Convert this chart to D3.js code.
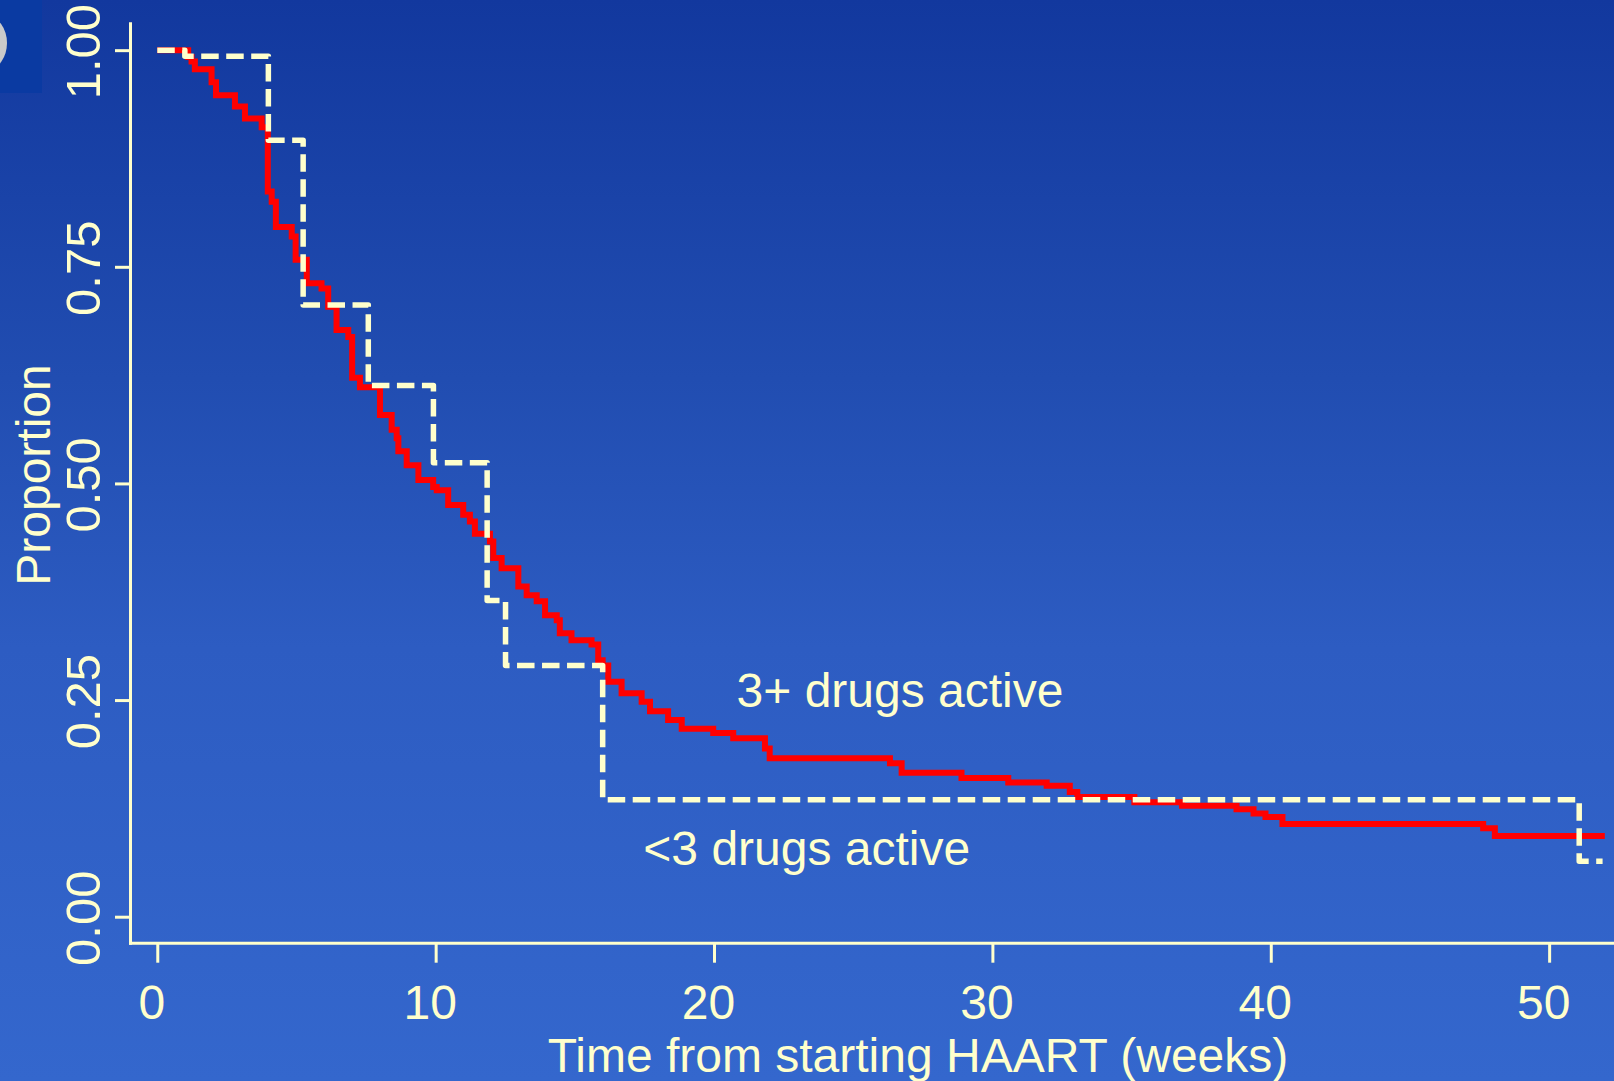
<!DOCTYPE html>
<html>
<head>
<meta charset="utf-8">
<script src="https://cdn.jsdelivr.net/npm/d3@7"></script>
<style>
  html, body { margin: 0; padding: 0; overflow: hidden; }
  svg { display: block; }
  text { font-family: "Liberation Sans", Arial, sans-serif; fill: #ffffcc; }
</style>
</head>
<body>
<div id="container"></div>
<script>
// 3+ drugs active (solid red KM curve)
const weeks3plus = [0, 1.11, 1.23, 1.35, 1.95, 2.11, 2.79, 3.15, 3.75, 3.97,
  4.11, 4.26, 4.83, 4.97, 5.37, 5.90, 6.14, 6.44, 6.86, 7.00,
  7.28, 8.00, 8.42, 8.60, 8.66, 8.96, 9.38, 9.91, 10.04, 10.45,
  10.99, 11.23, 11.41, 11.95, 12.07, 12.37, 12.97, 13.27, 13.63, 13.93,
  14.35, 14.46, 14.88, 15.60, 15.84, 16.00, 16.20, 16.68, 17.40, 17.70,
  18.35, 18.84, 19.97, 20.69, 21.83, 22.00, 26.32, 26.74, 28.89, 30.57,
  31.95, 32.78, 33.05, 35.10, 36.81, 38.77, 39.38, 39.81, 40.42, 47.63,
  48.05, 52.00];
const surv3plus = [1.000, 0.992, 0.987, 0.978, 0.963, 0.948, 0.935, 0.921, 0.911, 0.837,
  0.825, 0.796, 0.785, 0.758, 0.731, 0.725, 0.704, 0.677, 0.669, 0.622,
  0.611, 0.579, 0.562, 0.552, 0.537, 0.521, 0.504, 0.496, 0.492, 0.475,
  0.464, 0.456, 0.442, 0.433, 0.414, 0.402, 0.381, 0.371, 0.364, 0.348,
  0.342, 0.327, 0.319, 0.314, 0.296, 0.290, 0.271, 0.258, 0.248, 0.237,
  0.227, 0.217, 0.212, 0.206, 0.194, 0.183, 0.177, 0.166, 0.160, 0.155,
  0.151, 0.144, 0.138, 0.132, 0.128, 0.124, 0.119, 0.115, 0.107, 0.102,
  0.093, 0.093];

// <3 drugs active (dashed cream KM curve)
const weeksLess3 = [0, 0.99, 3.99, 5.24, 7.58, 9.92, 11.85, 12.51, 16.00, 51.08, 51.92];
const survLess3 = [1.000, 0.993, 0.896, 0.706, 0.613, 0.524, 0.365, 0.290, 0.135, 0.064, 0.064];

// axis ticks
const xTicks = [0, 10, 20, 30, 40, 50];
const yTicks = [0, 0.25, 0.5, 0.75, 1];
const yTickLabels = ["0.00", "0.25", "0.50", "0.75", "1.00"];

function drawChart() {
  const width = 1614;
  const height = 1081;
  const cream = "#ffffcc";

  const svg = d3.select("#container").append("svg")
    .attr("width", width).attr("height", height);

  // slide background
  const defs = svg.append("defs");
  const grad = defs.append("linearGradient")
    .attr("id", "bg").attr("x1", 0).attr("y1", 0).attr("x2", 0).attr("y2", 1);
  grad.append("stop").attr("offset", "0%").attr("stop-color", "#12389e");
  grad.append("stop").attr("offset", "35%").attr("stop-color", "#214db1");
  grad.append("stop").attr("offset", "60%").attr("stop-color", "#2d5cc2");
  grad.append("stop").attr("offset", "100%").attr("stop-color", "#3467cd");
  svg.append("rect").attr("width", width).attr("height", height).attr("fill", "url(#bg)");

  // corner logo remnant
  svg.append("rect").attr("x", 0).attr("y", 0).attr("width", 42).attr("height", 93)
    .attr("fill", "#0a3aa2");
  svg.append("ellipse").attr("cx", -12).attr("cy", 43).attr("rx", 19).attr("ry", 26)
    .attr("fill", "#cacaca");

  // scales (domains padded so the axis lines run past the ticks)
  const xScale = d3.scaleLinear().domain([-0.98, 52.33]).range([130, 1614]);
  const yScale = d3.scaleLinear().domain([-0.03, 1.031]).range([942.7, 23.3]);

  const line = d3.line()
    .x(d => xScale(d[0]))
    .y(d => yScale(d[1]))
    .curve(d3.curveStepAfter);

  const red = weeks3plus.map((w, i) => [w, surv3plus[i]]);
  const dashed = weeksLess3.map((w, i) => [w, survLess3[i]]);

  svg.append("path")
    .datum(red)
    .attr("d", line)
    .attr("fill", "none")
    .attr("stroke", "#ff0000")
    .attr("stroke-width", 6);

  svg.append("path")
    .datum(dashed)
    .attr("d", line)
    .attr("fill", "none")
    .attr("stroke", cream)
    .attr("stroke-width", 5.5)
    .attr("stroke-linejoin", "round")
    .attr("stroke-dasharray", "17.5,7.5");

  // axes
  const xAxis = d3.axisBottom(xScale).tickValues(xTicks).tickSizeOuter(0).tickSizeInner(20);
  const yAxis = d3.axisLeft(yScale).tickValues(yTicks).tickSizeOuter(0).tickSizeInner(15)
    .tickFormat((d, i) => yTickLabels[i]);

  const gx = svg.append("g")
    .attr("id", "x-axis")
    .attr("transform", "translate(0," + yScale.range()[0] + ")")
    .call(xAxis);
  const gy = svg.append("g")
    .attr("id", "y-axis")
    .attr("transform", "translate(" + xScale.range()[0] + ",0)")
    .call(yAxis);

  [gx, gy].forEach(g => {
    g.select(".domain").attr("stroke", cream).attr("stroke-width", 3).attr("stroke-linecap", "square");
    g.selectAll(".tick line").attr("stroke", cream).attr("stroke-width", 3);
  });

  gx.selectAll(".tick text")
    .attr("y", 76).attr("dy", 0).attr("dx", -6)
    .style("font-size", "48px")
    .attr("fill", cream);

  gy.selectAll(".tick text")
    .attr("x", 0).attr("dy", 0).attr("y", 0)
    .attr("text-anchor", "middle")
    .attr("transform", "translate(-30,1) rotate(-90)")
    .style("font-size", "49px")
    .attr("fill", cream);

  // axis titles
  svg.append("text")
    .attr("x", 918).attr("y", 1072)
    .attr("text-anchor", "middle")
    .style("font-size", "48px")
    .text("Time from starting HAART (weeks)");

  svg.append("text")
    .attr("transform", "translate(50,475) rotate(-90)")
    .attr("text-anchor", "middle")
    .style("font-size", "48px")
    .text("Proportion");

  // curve labels
  svg.append("text")
    .attr("x", xScale(20.81)).attr("y", yScale(0.2423))
    .style("font-size", "48px")
    .text("3+ drugs active");

  svg.append("text")
    .attr("x", xScale(17.46)).attr("y", yScale(0.0597))
    .style("font-size", "48px")
    .text("<3 drugs active");
}

drawChart();
</script>
</body>
</html>
